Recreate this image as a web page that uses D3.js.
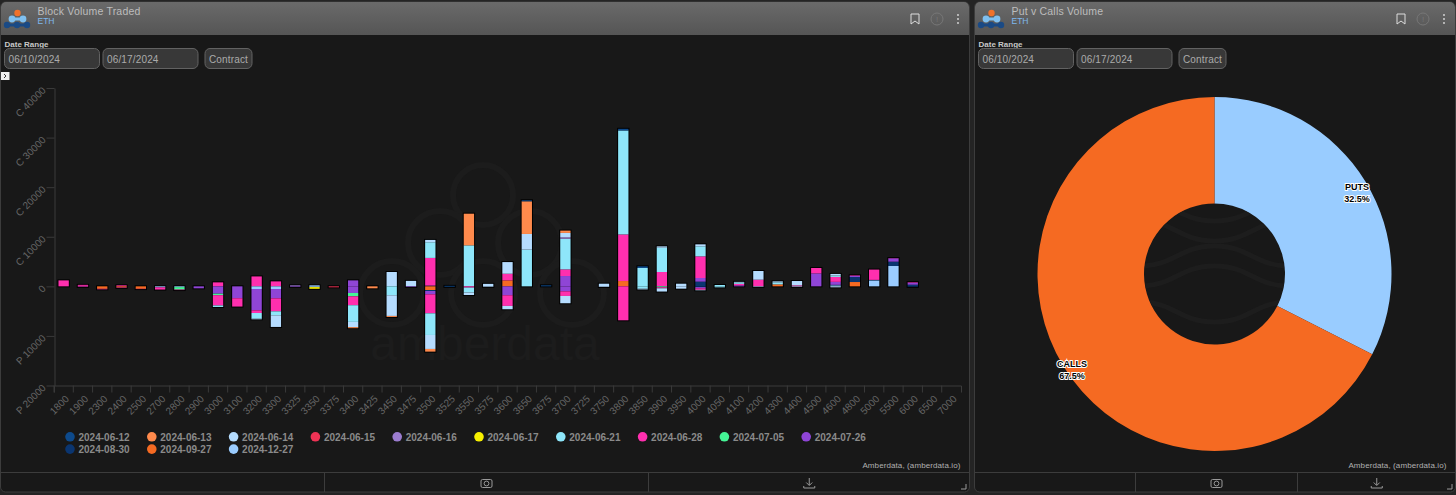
<!DOCTYPE html>
<html>
<head>
<meta charset="utf-8">
<script src="https://d3js.org/d3.v7.min.js"></script>
<style>
body { margin: 0; background: #242424; overflow: hidden; }
text { font-family: "Liberation Sans", sans-serif; }
</style>
</head>
<body>
<svg id="chart" width="1456" height="495"></svg>
<script>
var strikes = [1800, 1900, 2300, 2400, 2500, 2700, 2800, 2900, 3000, 3100, 3200, 3300, 3325, 3350, 3375, 3400,
    3425, 3450, 3475, 3500, 3525, 3550, 3575, 3600, 3650, 3675, 3700, 3725, 3750, 3800, 3850, 3900, 3950, 4000,
    4050, 4100, 4200, 4300, 4400, 4500, 4600, 4800, 5000, 5500, 6000, 6500, 7000];

// each row is [strike, call volume, put volume]
var vol0612 = [[3525, 100, 100], [3650, 200, 0], [3675, 200, 0], [3800, 330, 0], [3850, 330, 0]];
var vol0613 = [[3400, 0, 200], [3425, 0, 400], [3450, 0, 200], [3500, 0, 540], [3550, 6380, 0], [3650, 6590, 0], [3700, 470, 0]];
var vol0614 = [[3200, 0, 130], [3300, 0, 2350], [3400, 0, 1070], [3450, 2890, 4170], [3475, 1100, 0], [3500, 470, 2820],
    [3550, 0, 500], [3575, 500, 100], [3600, 2350, 670], [3650, 3160, 0], [3700, 870, 1470], [3750, 530, 130], [3850, 0, 150],
    [3900, 270, 650], [3950, 530, 470], [4000, 400, 100], [4100, 100, 0], [4200, 1750, 100], [4300, 200, 0], [4400, 870, 100], [4600, 300, 200]];
var vol0615 = [[3375, 0, 200]];
var vol0616 = [[3325, 200, 0], [3700, 300, 0]];
var vol0617 = [[3350, 0, 350]];
var vol0621 = [[3000, 0, 300], [3200, 0, 1140], [3300, 0, 800], [3400, 0, 3360], [3450, 0, 1800], [3500, 3160, 4370],
    [3550, 8270, 1000], [3650, 7400, 0], [3700, 6180, 0], [3800, 20970, 0], [3850, 3700, 470], [3900, 4900, 0], [4000, 2020, 0],
    [4050, 270, 200], [4100, 300, 0], [4300, 400, 0], [4600, 300, 0]];
var vol0628 = [[1800, 1200, 0], [1900, 200, 100], [2300, 0, 100], [2400, 200, 100], [2500, 0, 50], [2700, 0, 450], [2800, 0, 100],
    [3000, 800, 2080], [3100, 0, 1680], [3200, 2000, 540], [3300, 1000, 2620], [3400, 0, 1800], [3500, 5580, 3830], [3550, 0, 250],
    [3600, 1340, 2150], [3700, 1340, 940], [3800, 9400, 6850], [3900, 2890, 200], [4000, 4370, 300], [4100, 300, 0], [4200, 1340, 0],
    [4400, 200, 0], [4500, 1080, 0], [4600, 1000, 0], [4800, 100, 0], [5000, 2080, 0], [5500, 50, 0], [6000, 100, 0]];
var vol0705 = [[2800, 0, 500], [3000, 0, 300], [3400, 0, 670], [3900, 0, 200]];
var vol0726 = [[1900, 100, 0], [2900, 0, 400], [3000, 0, 1480], [3100, 0, 2400], [3200, 0, 4300], [3300, 0, 1880], [3325, 0, 100],
    [3400, 1200, 1340], [3475, 0, 100], [3500, 0, 670], [3600, 0, 1800], [3700, 2080, 1000], [4000, 740, 250], [4100, 200, 0],
    [4500, 2620, 0], [4600, 600, 0], [4800, 240, 0], [5500, 670, 0], [6000, 400, 0]];
var vol0830 = [[3500, 150, 200], [4000, 940, 150], [4600, 100, 0], [4800, 1000, 0], [5000, 100, 0], [5500, 870, 0], [6000, 330, 100]];
var vol0927 = [[2300, 0, 500], [2400, 0, 200], [2500, 0, 500], [3500, 0, 740], [3600, 1200, 0], [3800, 1070, 0], [4300, 400, 0], [4800, 870, 0]];
var vol1227 = [[2700, 0, 200], [2800, 0, 150], [3200, 0, 540], [3300, 0, 540], [3350, 200, 150], [4600, 200, 0], [5000, 1200, 0], [5500, 4100, 0]];

var expiries = ["2024-06-12", "2024-06-13", "2024-06-14", "2024-06-15", "2024-06-16", "2024-06-17", "2024-06-21",
    "2024-06-28", "2024-07-05", "2024-07-26", "2024-08-30", "2024-09-27", "2024-12-27"];
var expiryRows = [vol0612, vol0613, vol0614, vol0615, vol0616, vol0617, vol0621, vol0628, vol0705, vol0726, vol0830, vol0927, vol1227];
var expiryColors = ["#0d4a8c", "#ff8a4c", "#b5dcff", "#ee3355", "#9b7ccf", "#f7f000", "#8ee6fa",
    "#ff2fae", "#45f596", "#8f45d6", "#0a3570", "#f56a22", "#9accff"];

var yTicks = [40000, 30000, 20000, 10000, 0, -10000, -20000];

var pieLabels = ["PUTS", "CALLS"];
var pieValues = [32.5, 67.5];
var pieColors = ["#99ccff", "#f56a22"];

var svg = d3.select("#chart");

var headerFill = svg.append("defs").append("linearGradient").attr("id", "header").attr("x1", 0).attr("x2", 0).attr("y1", 0).attr("y2", 1);
headerFill.append("stop").attr("offset", 0).attr("stop-color", "#6a6a6a");
headerFill.append("stop").attr("offset", 1).attr("stop-color", "#555");

function drawPanel(left, right, title, dividers)
{
    var width = right - left;
    var panel = svg.append("g").attr("transform", "translate(" + left + ",0)");
    panel.append("rect").attr("x", 0.5).attr("y", 2).attr("width", width - 1).attr("height", 490)
        .attr("rx", 5).attr("fill", "#181818").attr("stroke", "#3c3c3c");
    panel.append("path").attr("d", "M1,35V7a5,5 0 0 1 5,-5H" + (width - 6) + "a5,5 0 0 1 5,5V35Z").attr("fill", "url(#header)");

    // logo
    panel.append("path").attr("d", "M7,25H27").attr("stroke", "#1a4a85").attr("stroke-width", 3);
    panel.append("path").attr("d", "M12,19H23").attr("stroke", "#7fc0f0").attr("stroke-width", 3);
    [[7, 25], [17, 25], [27, 25]].forEach(function(p) {
        panel.append("circle").attr("cx", p[0]).attr("cy", p[1]).attr("r", 3.2).attr("fill", "#1a4a85");
    });
    [[12, 19], [23, 19]].forEach(function(p) {
        panel.append("circle").attr("cx", p[0]).attr("cy", p[1]).attr("r", 3.4).attr("fill", "#7fc0f0");
    });
    panel.append("circle").attr("cx", 17.5).attr("cy", 13).attr("r", 3.2).attr("fill", "#f0722c");

    panel.append("text").attr("x", 37.5).attr("y", 15).attr("font-size", 10.5).attr("fill", "#bdbdbd").attr("letter-spacing", 0.2).text(title);
    panel.append("text").attr("x", 37.5).attr("y", 23.5).attr("font-size", 8.5).attr("fill", "#7fb8ee").text("ETH");

    // header icons
    var iconX = width - 55;
    panel.append("path").attr("d", "M" + (iconX - 4) + ",14H" + (iconX + 4) + "V24L" + iconX + ",21L" + (iconX - 4) + ",24Z")
        .attr("fill", "none").attr("stroke", "#ddd").attr("stroke-width", 1);
    panel.append("circle").attr("cx", iconX + 22).attr("cy", 19).attr("r", 6).attr("fill", "none").attr("stroke", "#777");
    panel.append("text").attr("x", iconX + 22).attr("y", 22).attr("text-anchor", "middle").attr("font-size", 8).attr("fill", "#777").text("!");
    [15, 19, 23].forEach(function(y) {
        panel.append("circle").attr("cx", iconX + 43).attr("cy", y).attr("r", 0.9).attr("fill", "#ddd");
    });

    panel.append("text").attr("x", 4.5).attr("y", 47).attr("font-size", 8).attr("font-weight", "bold").attr("fill", "#c8c8c8").text("Date Range");

    [[4.5, 95, "06/10/2024"], [103, 95, "06/17/2024"], [205, 47, "Contract"]].forEach(function(b) {
        panel.append("rect").attr("x", b[0]).attr("y", 48.5).attr("width", b[1]).attr("height", 20).attr("rx", 5)
            .attr("fill", "#383838").attr("stroke", "#626262");
        panel.append("text").attr("x", b[0] + 4).attr("y", 62.5).attr("font-size", 10).attr("fill", "#ababab").attr("letter-spacing", 0.15).text(b[2]);
    });

    // footer
    panel.append("line").attr("x1", 0).attr("x2", width).attr("y1", 472.5).attr("y2", 472.5).attr("stroke", "#3c3c3c");
    dividers.forEach(function(x) {
        panel.append("line").attr("x1", x).attr("x2", x).attr("y1", 472).attr("y2", 492).attr("stroke", "#3c3c3c");
    });
    var camX = (dividers[0] + dividers[1]) / 2;
    panel.append("rect").attr("x", camX - 5.5).attr("y", 479.5).attr("width", 11).attr("height", 8).attr("rx", 1.5).attr("fill", "none").attr("stroke", "#999");
    panel.append("circle").attr("cx", camX).attr("cy", 483.5).attr("r", 2.4).attr("fill", "none").attr("stroke", "#999");
    var dlX = (dividers[1] + width) / 2;
    panel.append("path").attr("d", "M" + dlX + ",478V485M" + (dlX - 3) + ",482.5L" + dlX + ",485.5L" + (dlX + 3) + ",482.5M" + (dlX - 5.5) + ",486V488H" + (dlX + 5.5) + "V486")
        .attr("fill", "none").attr("stroke", "#999");
    panel.append("path").attr("d", "M" + (width - 9) + ",489H" + (width - 4) + "V484").attr("fill", "none").attr("stroke", "#999");

    panel.append("text").attr("x", width - 9.5).attr("y", 468).attr("text-anchor", "end").attr("font-size", 8).attr("fill", "#b0b0b0").attr("letter-spacing", 0.1)
        .text("Amberdata, (amberdata.io)");
    return panel;
}

var leftPanel = drawPanel(0, 970, "Block Volume Traded", [324.5, 648.5]);
var rightPanel = drawPanel(974, 1456, "Put v Calls Volume", [161.5, 323.5]);

// chevron box
svg.append("rect").attr("x", 1).attr("y", 72).attr("width", 8.5).attr("height", 8).attr("fill", "#eee");
svg.append("path").attr("d", "M4,74L6,76L4,78").attr("fill", "none").attr("stroke", "#333");

// watermark
var mark = svg.append("g").attr("fill", "none").attr("stroke", "#1c1c1c").attr("stroke-width", 6);
[[483, 195, 30], [440, 243, 32], [530, 243, 32], [392, 293, 32], [483, 293, 32], [572, 293, 32]].forEach(function(c) {
    mark.append("circle").attr("cx", c[0]).attr("cy", c[1]).attr("r", c[2]);
});
svg.append("text").attr("x", 485).attr("y", 360).attr("text-anchor", "middle").attr("font-size", 48).attr("fill", "#1c1c1c").text("amberdata");

// stacked bars
var x = d3.scaleBand().domain(strikes).range([54, 961]).paddingInner(0.465).paddingOuter(0.232);
var y = d3.scaleLinear().domain([-20000, 40000]).range([385.5, 88]);

var callRows = strikes.map(function(s) { return {strike: s}; });
var putRows = strikes.map(function(s) { return {strike: s}; });
expiries.forEach(function(e, i) {
    strikes.forEach(function(s, j) {
        var row = expiryRows[i].find(function(r) { return r[0] === s; });
        callRows[j][e] = row ? row[1] : 0;
        putRows[j][e] = row ? -row[2] : 0;
    });
});

// later expiries sit closest to zero
var stackOrder = expiries.slice().reverse();
var stack = d3.stack().keys(stackOrder);
var color = d3.scaleOrdinal().domain(expiries).range(expiryColors);

var totals = strikes.map(function(s, j) {
    return {
        strike: s,
        top: d3.sum(stackOrder, function(e) { return callRows[j][e]; }),
        bottom: d3.sum(stackOrder, function(e) { return putRows[j][e]; })
    };
}).filter(function(d) { return d.top > 0 || d.bottom < 0; });

// black outline behind each whole bar
svg.append("g").selectAll("rect")
    .data(totals)
    .enter()
    .append("rect")
    .attr("x", function(d) { return x(d.strike) - 1; })
    .attr("width", x.bandwidth() + 2)
    .attr("y", function(d) { return y(d.top) - 1; })
    .attr("height", function(d) { return y(d.bottom) - y(d.top) + 2; })
    .attr("fill", "#000");

[stack(callRows), stack(putRows)].forEach(function(layers) {
    svg.append("g").selectAll("g")
        .data(layers)
        .enter()
        .append("g")
        .attr("fill", function(d) { return color(d.key); })
        .selectAll("rect")
        .data(function(d) { return d; })
        .enter()
        .filter(function(d) { return d[0] !== d[1]; })
        .append("rect")
        .attr("x", function(d) { return x(d.data.strike); })
        .attr("width", x.bandwidth())
        .attr("y", function(d) { return Math.min(y(d[0]), y(d[1])); })
        .attr("height", function(d) { return Math.abs(y(d[0]) - y(d[1])); });
});

// axes
var xAxis = d3.axisBottom(x).tickSize(7).tickSizeOuter(7);
var xg = svg.append("g").attr("transform", "translate(0,385.5)").call(xAxis);
xg.selectAll(".tick line").attr("transform", "translate(" + (-x.step() / 2) + ",0)");
xg.selectAll("text")
    .attr("text-anchor", "end")
    .attr("y", 0).attr("dy", 0)
    .attr("transform", "translate(6,14) rotate(-45)");

var yAxis = d3.axisLeft(y).tickValues(yTicks).tickSize(8).tickSizeOuter(0)
    .tickFormat(function(d) { return d > 0 ? "C " + d : d < 0 ? "P " + (-d) : "0"; });
var yg = svg.append("g").attr("transform", "translate(54.5,0)").call(yAxis);
yg.selectAll("text")
    .attr("text-anchor", "end")
    .attr("x", 0).attr("dy", 0)
    .attr("transform", "translate(-8,2.5) rotate(-45)");

[xg, yg].forEach(function(g) {
    g.selectAll("path, line").attr("stroke", "#3a3a3a");
    g.selectAll("text").attr("fill", "#666").attr("font-size", 10).attr("font-family", "Liberation Sans");
});

// legend
var legend = svg.append("g").selectAll("g")
    .data(expiries)
    .enter()
    .append("g")
    .attr("transform", function(d, i) {
        return "translate(" + (70 + (i % 10) * 81.8) + "," + (436.8 + Math.floor(i / 10) * 12.3) + ")";
    });
legend.append("circle").attr("r", 4.8).attr("fill", function(d) { return color(d); });
legend.append("text").attr("x", 8.5).attr("y", 4).attr("font-size", 10).attr("font-weight", "bold").attr("fill", "#8a8a8a").text(function(d) { return d; });

// donut
var arcs = d3.pie().sort(null)(pieValues);
var arc = d3.arc().innerRadius(70.5).outerRadius(177);
var labelArc = d3.arc().innerRadius(167).outerRadius(167);
var donut = svg.append("g").attr("transform", "translate(1214.5,274)");
donut.selectAll("path")
    .data(arcs)
    .enter()
    .append("path")
    .attr("d", arc)
    .attr("fill", function(d, i) { return pieColors[i]; });

// watermark waves in the hole
var holeClip = svg.append("clipPath").attr("id", "hole");
holeClip.append("circle").attr("r", 70);
var waves = donut.append("g").attr("clip-path", "url(#hole)").attr("fill", "none").attr("stroke", "#1d1d1d").attr("stroke-width", 5);
[[-53, -20], [-33, -20], [-28, 20], [-8, 20], [48, -20]].forEach(function(w) {
    var c = w[0], a = w[1];
    waves.append("path").attr("d", "M-75," + (c + a) + "C-40," + (c + a) + " -35," + c + " 0," + c + "S40," + (c + a) + " 75," + (c + a));
});

var labels = donut.selectAll("text.slice")
    .data(arcs)
    .enter()
    .append("text")
    .attr("class", "slice")
    .attr("text-anchor", "middle")
    .attr("font-size", 9)
    .attr("font-weight", "bold")
    .attr("fill", "#000")
    .attr("stroke", "#fff")
    .attr("stroke-width", 2)
    .attr("paint-order", "stroke")
    .attr("transform", function(d) { return "translate(" + labelArc.centroid(d) + ")"; });
labels.append("tspan").attr("x", 0).attr("y", function(d, i) { return 3 + i * 3; }).text(function(d, i) { return pieLabels[i]; });
labels.append("tspan").attr("x", 0).attr("y", function(d, i) { return 15 + i * 3; }).text(function(d, i) { return d.value + "%"; });
</script>
</body>
</html>
